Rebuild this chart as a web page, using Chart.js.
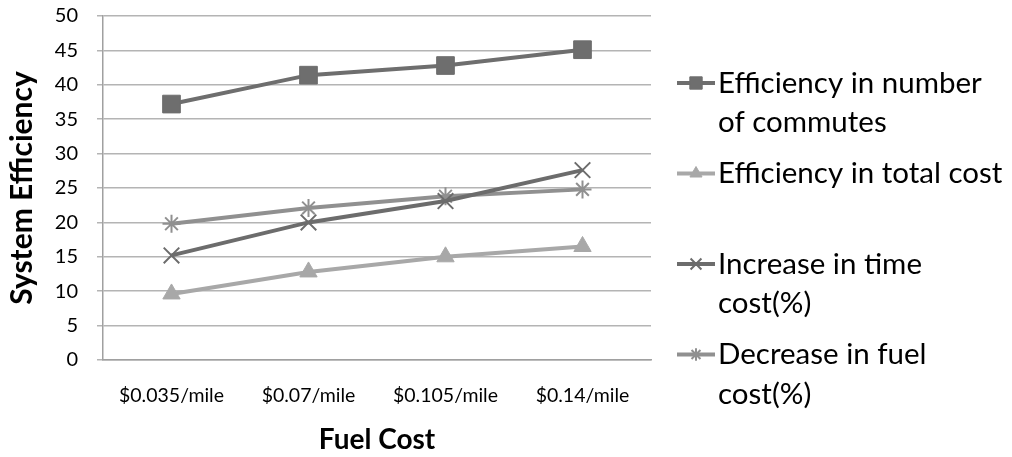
<!DOCTYPE html>
<html>
<head>
<meta charset="utf-8">
<script src="https://cdn.jsdelivr.net/npm/chart.js@4.4.0/dist/chart.umd.min.js"></script>
<style>
  html, body { margin: 0; padding: 0; background: #fff; }
  #wrap { width: 1012px; height: 457px; }
</style>
</head>
<body>
<div id="wrap"><canvas id="grafico" width="1012" height="457"></canvas></div>
<script>
// data
const categorias = ["$0.035/mile", "$0.07/mile", "$0.105/mile", "$0.14/mile"];
const efNumero = [37.2, 41.4, 42.8, 45.1];
const efCosto = [9.6, 12.8, 15.0, 16.5];
const aumentoTiempo = [15.2, 20.0, 23.1, 27.6];
const bajaCombustible = [19.8, 22.1, 23.8, 24.8];
const nombres = [
  "Efficiency in number of commutes",
  "Efficiency in total cost",
  "Increase in time cost(%)",
  "Decrease in fuel cost(%)"
];
// legend text, wrapped the way the reference shows it
const lineasLeyenda = [
  ["Efficiency in number", "of commutes"],
  ["Efficiency in total cost"],
  ["Increase in time", "cost(%)"],
  ["Decrease in fuel", "cost(%)"]
];
const yTicks = [0, 5, 10, 15, 20, 25, 30, 35, 40, 45, 50];

const FUENTE = "Lato, 'Liberation Sans', sans-serif";

function serie(i, datos, color, estilo, radio) {
  return {
    label: nombres[i],
    data: datos,
    borderColor: color,
    backgroundColor: color,
    borderWidth: 4,
    pointStyle: estilo,
    pointRadius: radio,
    pointHoverRadius: radio,
    pointBorderWidth: estilo === 'crossRot' || estilo === 'star' ? 2 : 1,
    pointBorderColor: color,
    pointBackgroundColor: color,
    tension: 0
  };
}

// legend drawn on the canvas at the right, with wrapped lines
const leyendaPlugin = {
  id: 'leyendaDerecha',
  afterDraw(chart) {
    const ctx = chart.ctx;
    const x0 = 677, x1 = 715, xt = 718;
    const yInicio = 83, paso = 90.5, interlinea = 39.5;
    ctx.save();
    ctx.font = "29.5px " + FUENTE;
    ctx.textBaseline = 'middle';
    ctx.fillStyle = '#000';
    chart.data.datasets.forEach((ds, i) => {
      const y = yInicio + i * paso;
      ctx.strokeStyle = ds.borderColor;
      ctx.lineWidth = 4;
      ctx.beginPath();
      ctx.moveTo(x0, y);
      ctx.lineTo(x1, y);
      ctx.stroke();
      ctx.fillStyle = ds.backgroundColor;
      ctx.strokeStyle = ds.borderColor;
      ctx.lineWidth = ds.pointBorderWidth;
      Chart.helpers.drawPoint(ctx, {
        pointStyle: ds.pointStyle,
        radius: ds.pointRadius * 0.7,
        rotation: 0,
        borderWidth: ds.pointBorderWidth
      }, (x0 + x1) / 2, y);
      ctx.fillStyle = '#000';
      lineasLeyenda[i].forEach((t, j) => {
        ctx.fillText(t, xt, y + j * interlinea);
      });
    });
    ctx.restore();
  }
};

const ctx = document.getElementById('grafico').getContext('2d');
new Chart(ctx, {
  type: 'line',
  data: {
    labels: categorias,
    datasets: [
      serie(0, efNumero, '#6e6e6e', 'rect', 12.5),
      serie(1, efCosto, '#a8a8a8', 'triangle', 10),
      serie(2, aumentoTiempo, '#6c6c6c', 'crossRot', 11),
      serie(3, bajaCombustible, '#909090', 'star', 9)
    ]
  },
  options: {
    responsive: false,
    animation: false,
    layout: { padding: { top: 16, right: 361, left: 0, bottom: 0 } },
    plugins: {
      legend: { display: false },
      tooltip: { enabled: false }
    },
    scales: {
      x: {
        offset: true,
        afterFit: (s) => { s.height = 97; },
        grid: { display: false, drawTicks: false },
        border: { display: true, color: '#a0a0a0', width: 1.5 },
        ticks: { color: '#000', font: { family: FUENTE, size: 19.5 }, padding: 24, maxRotation: 0 },
        title: {
          display: true, text: 'Fuel Cost', color: '#000',
          font: { family: FUENTE, size: 28, weight: 'bold' },
          padding: { top: 0, bottom: 0 }
        }
      },
      y: {
        min: 0, max: 50,
        afterFit: (s) => { s.width = 103; s.paddingTop = 0; s.paddingBottom = 0; },
        afterBuildTicks: (s) => { s.ticks = yTicks.map(v => ({ value: v })); },
        grid: { color: '#b4b4b4', lineWidth: 1.5, tickLength: 6, drawTicks: true },
        border: { display: true, color: '#a0a0a0', width: 1.5 },
        ticks: { color: '#000', font: { family: FUENTE, size: 20 }, padding: 19 },
        title: {
          display: true, text: 'System Efficiency', color: '#000',
          font: { family: FUENTE, size: 30, weight: 'bold' },
          padding: { top: 4, bottom: 0 }
        }
      }
    }
  },
  plugins: [leyendaPlugin]
});
</script>
</body>
</html>
